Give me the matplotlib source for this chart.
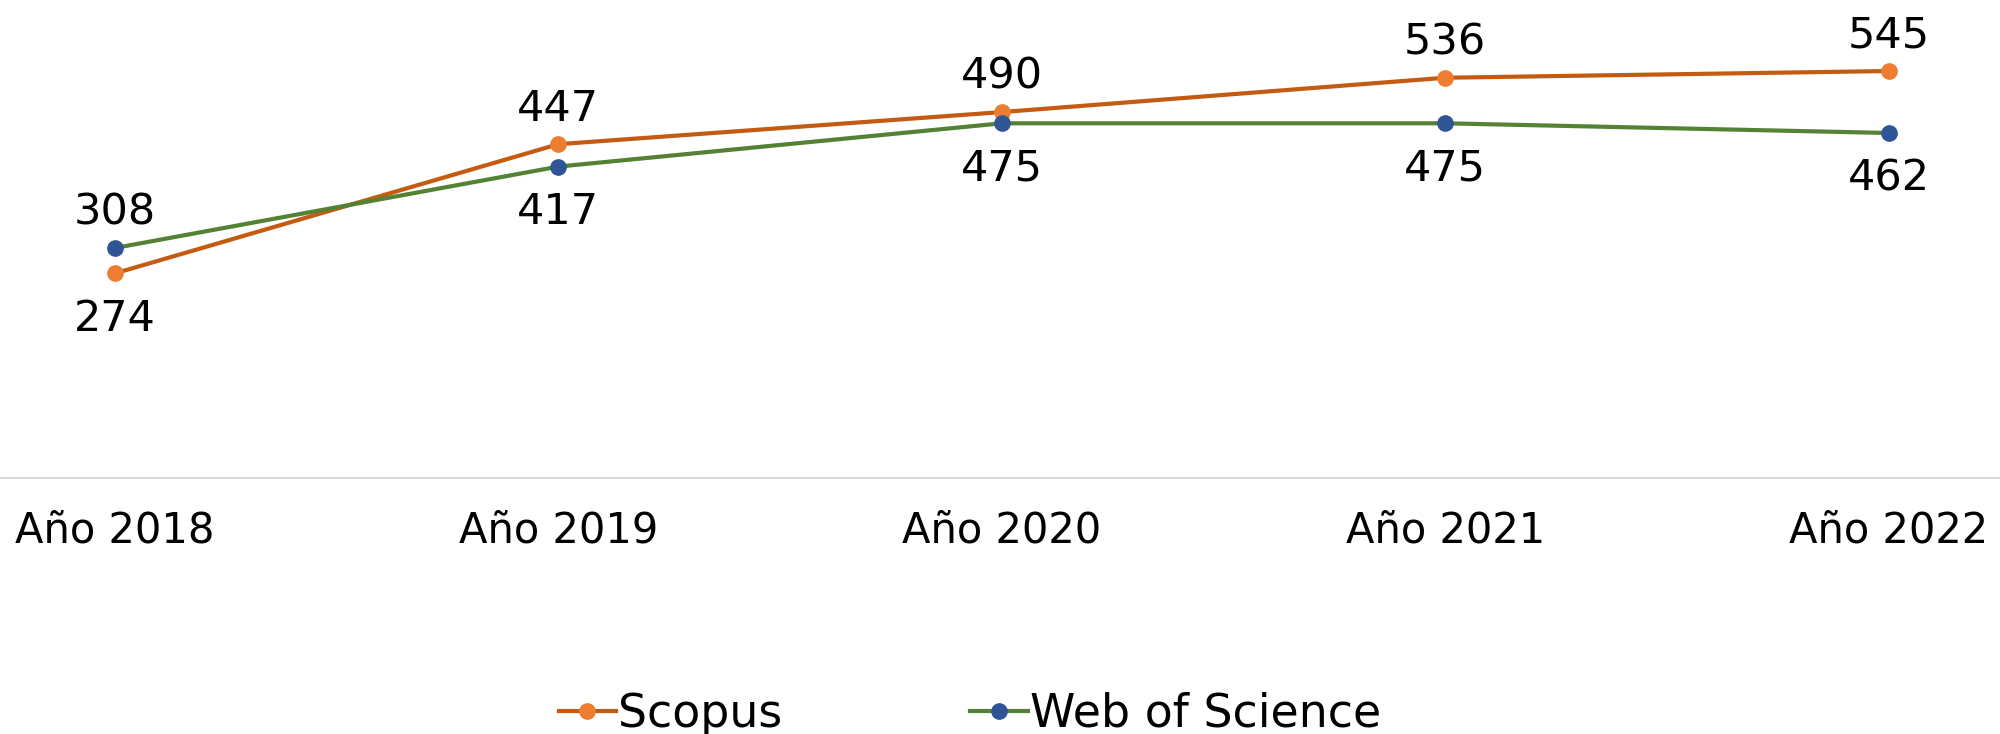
import matplotlib.pyplot as plt

# ----------------------------
# Data
# ----------------------------
years = ["Año 2018", "Año 2019", "Año 2020", "Año 2021", "Año 2022"]
scopus = [274, 447, 490, 536, 545]
wos = [308, 417, 475, 475, 462]

# label placement: +1 above the point, -1 below
scopus_pos = [-1, 1, 1, 1, 1]
wos_pos = [1, -1, -1, -1, -1]

plt.rcParams["font.family"] = "DejaVu Sans"

fig = plt.figure(figsize=(20, 7.34), dpi=100)
ax = fig.add_axes([0.0, 0.3488, 1.0, 0.6104])

x = list(range(len(years)))

ax.plot(x, scopus, color="#C55A11", linewidth=3,
        marker="o", markersize=11, markerfacecolor="#ED7D31",
        markeredgecolor="#ED7D31", label="Scopus", zorder=3)
ax.plot(x, wos, color="#548235", linewidth=3,
        marker="o", markersize=11, markerfacecolor="#2F5597",
        markeredgecolor="#2F5597", label="Web of Science", zorder=3)


def offset(p):
    # labels sit a bit lower than symmetric
    return 25.5 if p > 0 else -32.5


# data labels
for xi, v, p in zip(x, scopus, scopus_pos):
    ax.annotate(str(v), (xi, v), xytext=(0, offset(p)), textcoords="offset points",
                ha="center", va="center", fontsize=31, color="black")
for xi, v, p in zip(x, wos, wos_pos):
    ax.annotate(str(v), (xi, v), xytext=(0, offset(p)), textcoords="offset points",
                ha="center", va="center", fontsize=31, color="black")

ax.set_xlim(-0.259, 4.251)
ax.set_ylim(0, 600)
ax.set_xticks(x)
ax.set_xticklabels(years, fontsize=30)
ax.tick_params(axis="x", length=0, pad=23)
ax.set_yticks([])

for s in ["top", "left", "right"]:
    ax.spines[s].set_visible(False)
ax.spines["bottom"].set_color("#D9D9D9")
ax.spines["bottom"].set_linewidth(1.5)

fig.legend(loc="center", bbox_to_anchor=(0.485, 0.027), ncol=2, frameon=False,
           fontsize=33, handlelength=1.25, handletextpad=0.05,
           columnspacing=4.1)

fig.savefig("out.png", dpi=100)
